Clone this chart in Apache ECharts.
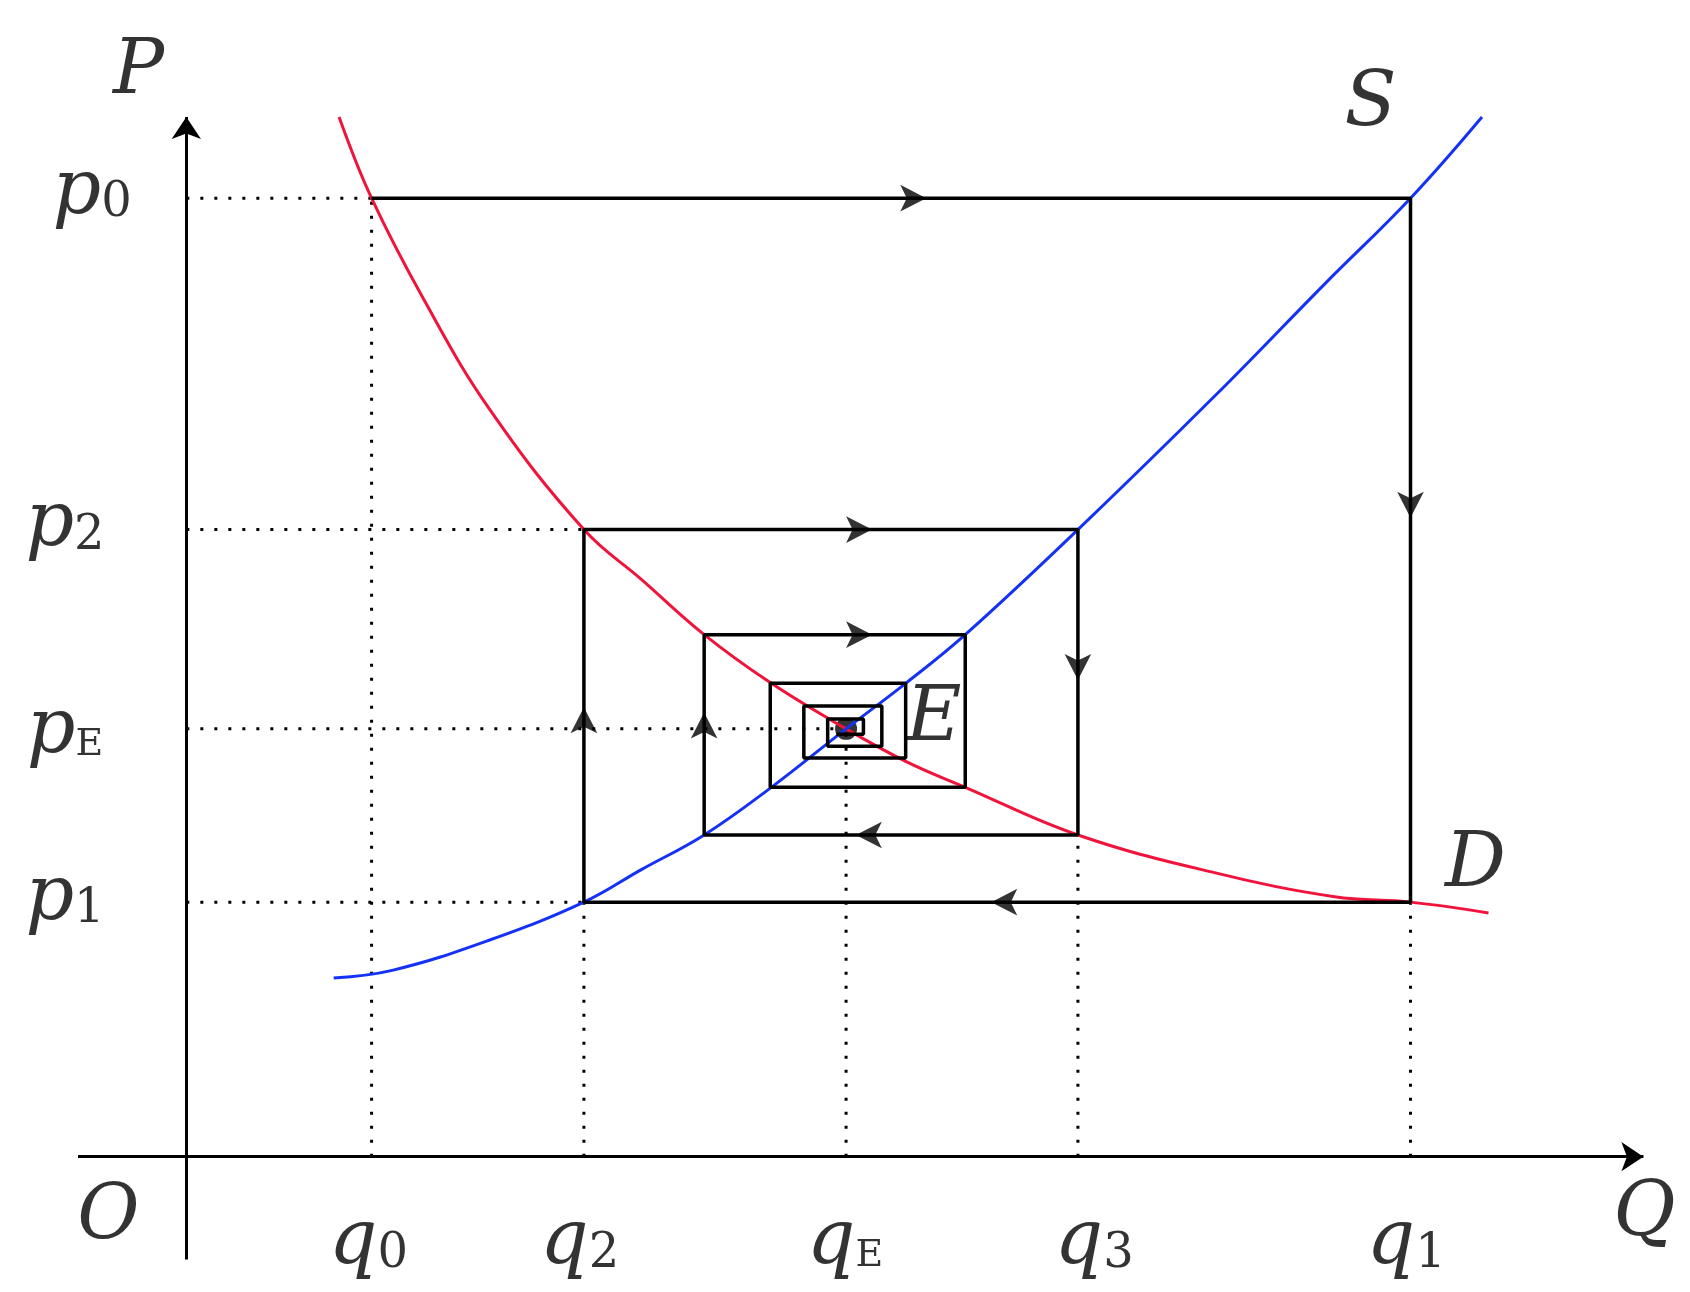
<!DOCTYPE html><html><head><meta charset="utf-8"><script src="https://cdn.jsdelivr.net/npm/echarts@6/dist/echarts.min.js"></script>
<style>body{margin:0;background:#fff}#c{width:1690px;height:1292px}</style></head><body><div id="c"></div><script>
const demand=[[141,960],[171,885],[220,790],[280,690],[367,579],[420,533],[478,482],[540,437],[609,395],[664,365],[719,341],[823,297],[950,262],[1060,240],[1130,235],[1202,225]];
const supply=[[136,165],[190,172],[280,200],[367,235],[420,265],[478,297],[540,341],[609,395],[664,437],[719,482],[823,579],[950,703],[1050,805],[1130,885],[1196,960]];
const cobweb=[[171,885],[1130,885],[1130,235],[367,235],[367,579],[823,579],[823,297],[478,297],[478,482],[719,482],[719,341],[539,341],[539,437],[664,437],[664,368],[570,368],[570,416],[642,416],[642,379],[592,379],[592,404],[625,404],[625,390],[600,390]];
const arrows=[[683,885,-90],[1130,590,180],[743,235,90],[367,415,0],[633,579,-90],[823,440,180],[618,297,90],[478,410,0],[633,482,-90]];
const hDots=[[171,885],[367,579],[609,395],[367,235]];
const vDots=[[171,885],[367,235],[609,395],[823,297],[1130,235]];
const equilibrium=[609,395];
const labels=[["{i|P}",-44,1000],["{i|S}",1093,971],["{i|D}",1190,268],["{i|E}",690,403],["{i|O}",-72,-57],["{i|Q}",1346,-54],
["{i|p}{s|0}",-87,890],["{i|p}{s|2}",-112,583],["{i|p}{r|E}",-112,392],["{i|p}{s|1}",-112,238],
["{i|q}{s|0}",168,-80],["{i|q}{s|2}",363,-80],["{i|q}{r|E}",608,-80],["{i|q}{s|3}",838,-80],["{i|q}{s|1}",1126,-80]];
const c=echarts.init(document.getElementById('c'));
const dot={color:'#000',width:3,type:[3,11]};
const series=[];
hDots.forEach(p=>series.push({type:'line',data:[[0,p[1]],p],symbol:'none',lineStyle:dot,silent:true}));
vDots.forEach(p=>series.push({type:'line',data:[[p[0],0],p],symbol:'none',lineStyle:dot,silent:true}));
series.push({type:'lines',coordinateSystem:'cartesian2d',symbol:['none','arrow'],symbolSize:22,lineStyle:{color:'#000',width:3,opacity:1},
 data:[{coords:[[-100,0],[1345,0]]},{coords:[[0,-95],[960,0].reverse()]}]});
series.push({type:'line',data:demand,smooth:0.4,symbol:'none',lineStyle:{color:'#f0143c',width:3}});
series.push({type:'line',data:supply,smooth:0.4,symbol:'none',lineStyle:{color:'#1432f5',width:3}});
series.push({type:'line',data:cobweb,symbol:'none',lineStyle:{color:'#000',width:3.5}});
series.push({type:'scatter',data:arrows.map(a=>({value:[a[0],a[1]],symbolRotate:a[2]})),symbol:'arrow',symbolSize:[20,26],itemStyle:{color:'#000'}});
series.push({type:'scatter',data:[equilibrium],symbolSize:22,itemStyle:{color:'#000'}});
series.push({type:'scatter',data:labels.map(l=>({value:[l[1],l[2]],name:l[0]})),symbolSize:0,
 label:{show:true,position:'inside',formatter:p=>p.name,rich:{i:{fontFamily:'DejaVu Serif',fontStyle:'italic',fontSize:76,color:'#000'},s:{fontFamily:'DejaVu Serif',fontSize:48,color:'#000',padding:[22,0,0,0]},r:{fontFamily:'DejaVu Serif',fontSize:38,color:'#000',padding:[26,0,0,0]}}}});
c.setOption({animation:false,grid:{left:0,right:0,top:0,bottom:0},
 xAxis:{type:'value',min:-172,max:1388,show:false},yAxis:{type:'value',min:-125,max:1068,show:false},series});
</script></body></html>
